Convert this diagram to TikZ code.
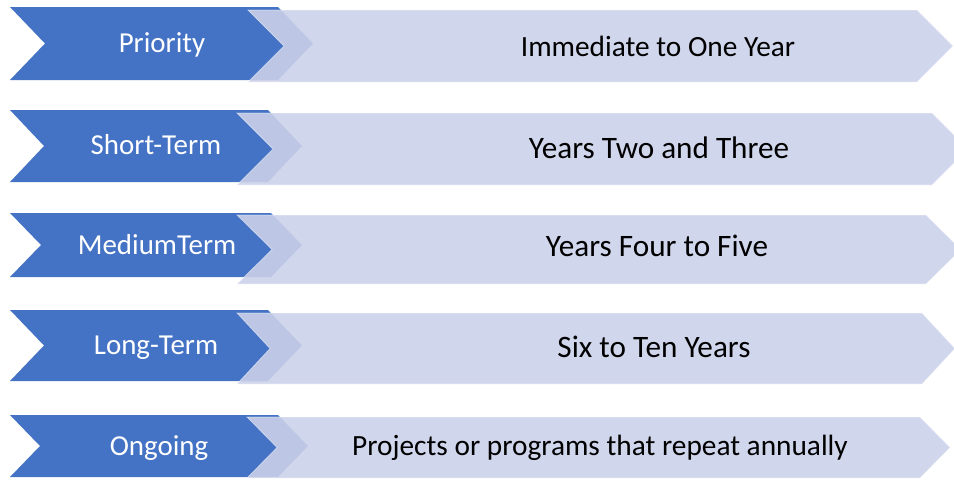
\documentclass[tikz,border=0pt]{standalone}
\usepackage{fontspec}
\setmainfont{Carlito}
\usepackage{tikz}
\definecolor{chevDark}{RGB}{68,114,196}
\definecolor{chevLight}{RGB}{203,209,233}

\begin{document}
\begin{tikzpicture}[
      x=0.75pt, y=-0.75pt,
      darkchev/.style={fill=chevDark},
      lightchev/.style={fill=chevLight, fill opacity=0.9, draw=white, draw opacity=0.45, line width=0.6pt},
      tag/.style={text=white, anchor=base, font=\fontsize{21.7}{24}\selectfont},
      desc/.style={text=black, anchor=base, font=\fontsize{23.4}{26}\selectfont}
    ]
      \useasboundingbox (0,0) rectangle (954,479);
      % dark: top/bottom/corner/depth -- light: top/bottom/left/corner/depth
      \foreach \dt/\db/\dc/\dd/\lt/\lb/\ll/\lc/\ld in {
          7/80/278/35/10/82/248/917/36,
          110/182/268/34/113/185/237/932/36,
          213/277/271/31/215/284/237/926/35,
          310/381/268/34/313/384/237/922/33,
          415/477/278/30/417/478/247/920/30}
      {
        \fill[darkchev] (10,\dt) -- (\dc,\dt) -- ({\dc+\dd},{(\dt+\db)/2}) -- (\dc,\db)
          -- (10,\db) -- ({10+\dd},{(\dt+\db)/2}) -- cycle;
        \filldraw[lightchev] (\ll,\lt) -- (\lc,\lt) -- ({\lc+\ld},{(\lt+\lb)/2}) -- (\lc,\lb)
          -- (\ll,\lb) -- ({\ll+\ld},{(\lt+\lb)/2}) -- cycle;
      }
      % labels
      \node[tag] (priority) at (162,52) {Priority};
      \node[tag] (short) at (156,154) {Short-Term};
      \node[tag] (medium) at (157,254) {MediumTerm};
      \node[tag] (long) at (156,354) {Long-Term};
      \node[tag] (ongoing) at (159,455) {Ongoing};
      \node[desc, font=\fontsize{22}{24}\selectfont] (priorityText) at (658,56) {Immediate to One Year};
      \node[desc] (shortText) at (659,158) {Years Two and Three};
      \node[desc] (mediumText) at (657,256) {Years Four to Five};
      \node[desc] (longText) at (654,357) {Six to Ten Years};
      \node[desc, font=\fontsize{22}{24}\selectfont] (ongoingText) at (600,455) {Projects or programs that repeat annually};
    \end{tikzpicture}
\end{document}
